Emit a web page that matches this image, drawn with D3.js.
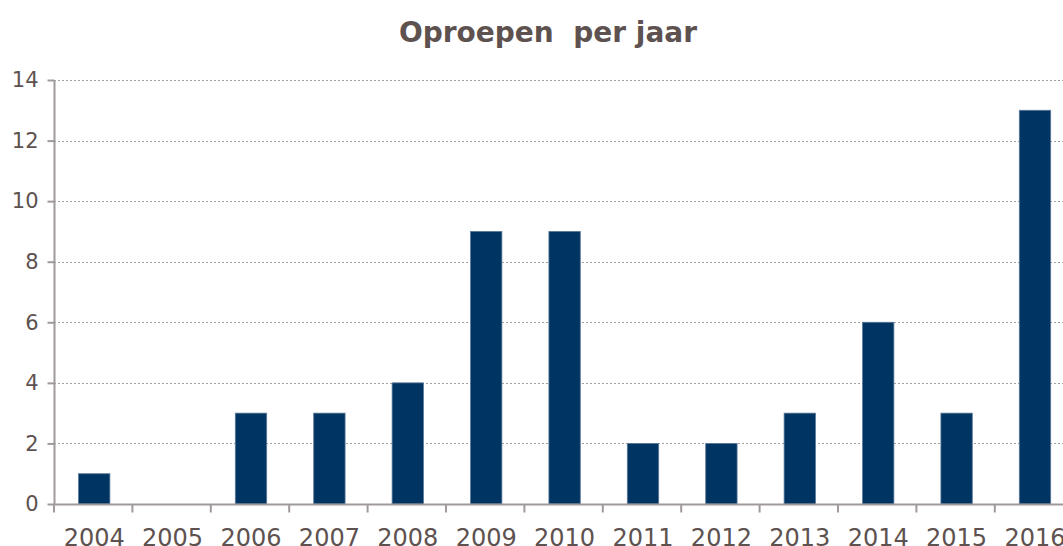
<!DOCTYPE html>
<html>
<head>
<meta charset="utf-8">
<script src="https://cdn.jsdelivr.net/npm/d3@7"></script>
<style>
  html, body { margin: 0; padding: 0; background: #fff; }
  svg { display: block; }
</style>
</head>
<body>
<svg id="chart" width="1063" height="546"></svg>
<script>
const title = "Oproepen  per jaar";
const years = ["2004","2005","2006","2007","2008","2009","2010","2011","2012","2013","2014","2015","2016"];
const calls = [1, 0, 3, 3, 4, 9, 9, 2, 2, 3, 6, 3, 13];
const yTicks = [0, 2, 4, 6, 8, 10, 12, 14];

(function () {
const svg = d3.select("#chart");
const W = 1063;
const mLeft = 54, mTop = 80, mBottom = 504;
const bandW = 78.4;

const x = d3.scaleBand().domain(years).range([mLeft, mLeft + bandW * years.length]).paddingInner(0.6).paddingOuter(0.3);
const y = d3.scaleLinear().domain([0, 14]).range([mBottom, mTop]);

const textCol = "#5e5250";
const axisCol = "#a09a9a";

svg.append("text")
  .attr("x", 548).attr("y", 42)
  .attr("text-anchor", "middle")
  .attr("font-family", "DejaVu Sans, Verdana, sans-serif")
  .attr("font-weight", "bold")
  .attr("font-size", 28)
  .attr("fill", textCol)
  .style("white-space", "pre")
  .text(title);

// gridlines
svg.append("g").selectAll("line")
  .data(yTicks.filter(d => d > 0))
  .join("line")
  .attr("x1", mLeft).attr("x2", W)
  .attr("y1", d => Math.round(y(d)) + 0.5).attr("y2", d => Math.round(y(d)) + 0.5)
  .attr("stroke", "#a0a0a0")
  .attr("stroke-width", 1.2)
  .attr("stroke-dasharray", "2,2");

// bars
svg.append("g").selectAll("rect")
  .data(years.map((yr, i) => ({yr, v: calls[i]})).filter(d => d.v > 0))
  .join("rect")
  .attr("x", d => x(d.yr) + 1)
  .attr("width", x.bandwidth())
  .attr("y", d => y(d.v))
  .attr("height", d => y(0) - y(d.v))
  .attr("fill", "#003462")
  .attr("stroke", "#5a7898")
  .attr("stroke-width", 0.8);

// y axis
const yAxis = d3.axisLeft(y).tickValues(yTicks).tickSize(7).tickPadding(9).tickFormat(d3.format("d"));
const gy = svg.append("g").attr("transform", `translate(${mLeft + 0.5},0)`).call(yAxis);
gy.select(".domain").attr("stroke", axisCol).attr("stroke-width", 2).attr("d", `M0,${mTop}V${mBottom}`);
gy.selectAll(".tick line").attr("stroke", axisCol).attr("stroke-width", 2);
gy.selectAll(".tick text")
  .attr("font-family", "DejaVu Sans, Verdana, sans-serif")
  .attr("font-size", 21)
  .attr("fill", textCol);

// x axis
const gx = svg.append("g").attr("transform", `translate(0,${mBottom + 0.5})`);
gx.append("line").attr("x1", mLeft).attr("x2", W).attr("stroke", axisCol).attr("stroke-width", 2);
const bounds = d3.range(years.length + 1).map(i => mLeft + i * bandW);
gx.selectAll("line.tk").data(bounds).join("line").attr("class", "tk")
  .attr("x1", d => d).attr("x2", d => d).attr("y1", 0).attr("y2", 8)
  .attr("stroke", axisCol).attr("stroke-width", 2);
gx.selectAll("text").data(years).join("text")
  .attr("x", d => x(d) + x.bandwidth() / 2 + 1)
  .attr("y", 41)
  .attr("text-anchor", "middle")
  .attr("font-family", "DejaVu Sans, Verdana, sans-serif")
  .attr("font-size", 24)
  .attr("fill", textCol)
  .text(d => d);
})();
</script>
</body>
</html>
